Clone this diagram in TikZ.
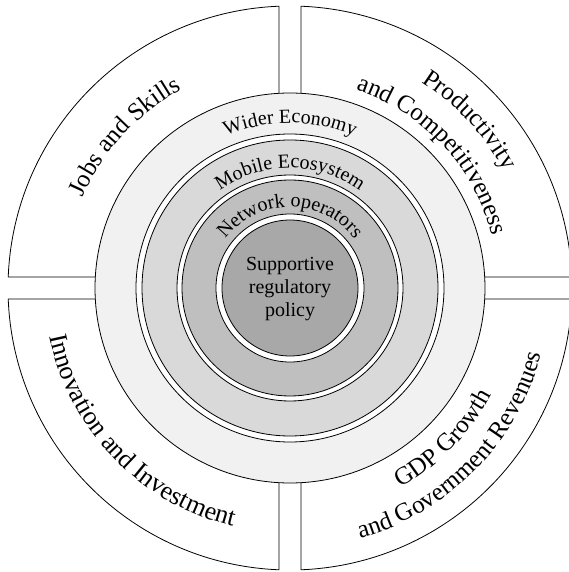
\documentclass[tikz,border=0pt]{standalone}
\usepackage{fontspec}
\setmainfont{Liberation Serif}
\usepackage{tikz}
\usetikzlibrary{decorations.text}

\definecolor{wider}{gray}{0.945}
\definecolor{mobile}{gray}{0.85}
\definecolor{network}{gray}{0.75}
\definecolor{core}{gray}{0.66}

\begin{document}
\begin{tikzpicture}[x=1pt,y=1pt,
    sector/.style={draw,line width=0.8pt,fill=white},
    ring/.style={draw,line width=0.8pt},
    curved/.style={decorate,decoration={text along path,text align=center,text={#1}}}]
    \clip (-290,-284) rectangle (279,288);
    % outer quadrants
    \foreach \a/\sx/\sy in {90/-1/1,0/1/1,180/-1/-1,270/1/-1}
      \draw [sector] (\sx*11,\sy*11) -- (\a+2.23:282)
        arc [start angle=\a+2.23,end angle=\a+87.77,radius=282] -- cycle;
    % rings
    \draw [ring,fill=wider] (0,0) circle [radius=195];
    \draw [ring,fill=white] (0,0) circle [radius=154];
    \draw [ring,fill=mobile] (0,0) circle [radius=148];
    \draw [ring,fill=white] (0,0) circle [radius=113];
    \draw [ring,fill=network] (0,0) circle [radius=108];
    \draw [ring,fill=white] (0,0) circle [radius=74];
    \draw [ring,fill=core] (0,0) circle [radius=68];
    \node [align=center,font=\fontsize{20}{23}\selectfont] (1) at (0,-1) {
      Supportive\\regulatory\\policy
    };
    % ring labels
    \path [curved={|\fontsize{20}{24}\selectfont|Wider Economy}]
      (160:165) arc [start angle=160,end angle=20,radius=165];
    \path [curved={|\fontsize{20}{24}\selectfont|Mobile Ecosystem}]
      (170:120) arc [start angle=170,end angle=10,radius=120];
    \path [curved={|\fontsize{20}{24}\selectfont|Network operators}]
      (178:81) arc [start angle=178,end angle=2,radius=81];
    % quadrant labels
    \path [curved={|\fontsize{25}{30}\selectfont|Jobs and Skills}]
      (200:226) arc [start angle=200,end angle=75,radius=226];
    \path [curved={|\fontsize{25}{30}\selectfont|Productivity}]
      (110:244) arc [start angle=110,end angle=-24,radius=244];
    \path [curved={|\fontsize{25}{30}\selectfont|and Competitiveness}]
      (113:209) arc [start angle=113,end angle=-27,radius=209];
    \path [curved={|\fontsize{26}{30}\selectfont|Innovation and Investment}]
      (144:245) arc [start angle=144,end angle=304,radius=245];
    \path [curved={|\fontsize{25}{30}\selectfont|GDP Growth}]
      (-124:228) arc [start angle=-124,end angle=35,radius=228];
    \path [curved={|\fontsize{25}{30}\selectfont|and Government Revenues}]
      (-124:260) arc [start angle=-124,end angle=35,radius=260];
\end{tikzpicture}
\end{document}
